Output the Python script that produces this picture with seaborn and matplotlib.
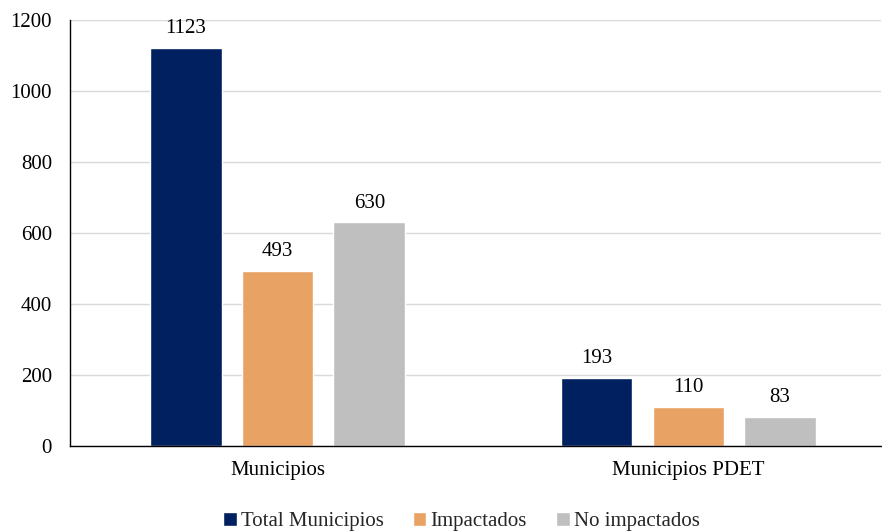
import matplotlib
matplotlib.use("Agg")
import matplotlib.pyplot as plt
import seaborn as sns
import pandas as pd

# data
grupos = ["Municipios", "Municipios PDET"]
series = ["Total Municipios", "Impactados", "No impactados"]
total = [1123, 193]
impactados = [493, 110]
no_impactados = [630, 83]
colores = ["#002060", "#E8A264", "#BFBFBF"]

df = pd.DataFrame({
    "grupo": grupos * 3,
    "serie": [s for s in series for _ in grupos],
    "valor": total + impactados + no_impactados,
})

sns.set_theme(style="white")
plt.rcParams["font.family"] = ["Liberation Serif", "DejaVu Serif"]

fig = plt.figure(figsize=(8.82, 5.31), dpi=100)
ax = fig.add_axes([0.0794, 0.160, 0.92, 0.802])

sns.barplot(data=df, x="grupo", y="valor", hue="serie", hue_order=series,
            palette=colores, width=0.67, gap=0.22, saturation=1, ax=ax,
            legend=True)

fs = 15
for c in ax.containers:
    ax.bar_label(c, padding=7, fontsize=fs, color="#000000")

ax.set_ylim(0, 1200)
ax.set_yticks(range(0, 1201, 200))
ax.set_xlim(-0.505, 1.47)
ax.yaxis.grid(True, color="#D9D9D9", linewidth=1)
ax.set_axisbelow(True)
ax.set_xlabel("")
ax.set_ylabel("")
ax.tick_params(axis="both", labelsize=fs, colors="#000000", length=0)
ax.tick_params(axis="x", pad=11)
ax.tick_params(axis="y", pad=13)
for s in ["top", "right"]:
    ax.spines[s].set_visible(False)
ax.spines["left"].set_color("#000000")
ax.spines["bottom"].set_color("#000000")
ax.spines["left"].set_linewidth(1)
ax.spines["bottom"].set_linewidth(1)

handles, labels = ax.get_legend_handles_labels()
ax.legend_.remove()
fig.legend(handles, labels, loc="center", bbox_to_anchor=(0.523, 0.018),
           ncol=3, frameon=False, fontsize=fs, handlelength=0.65,
           handleheight=0.65, handletextpad=0.2, columnspacing=1.4)

fig.savefig("out.png", dpi=100)
